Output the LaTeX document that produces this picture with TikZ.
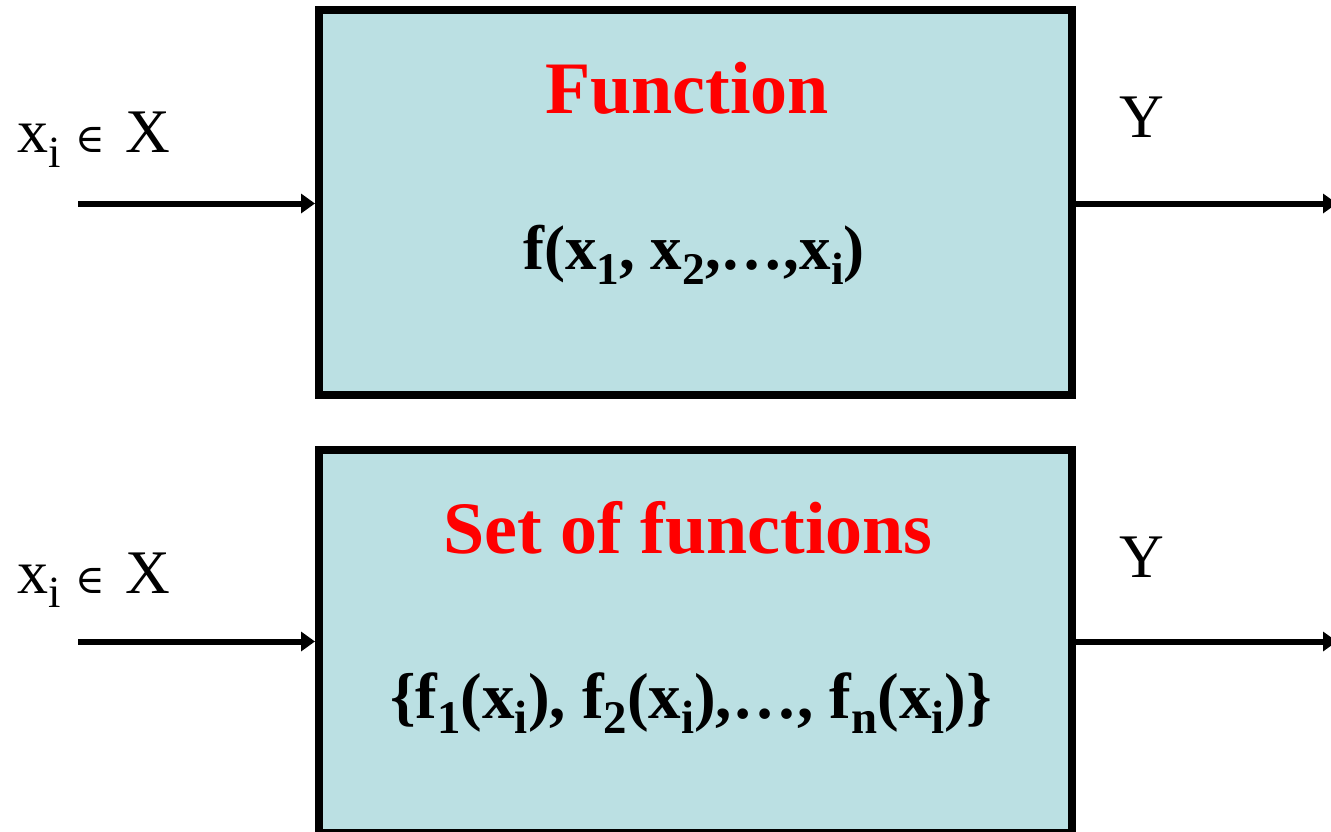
\documentclass[tikz,border=0pt]{standalone}
\usepackage{fontspec}
\usepackage{graphicx}
\setmainfont{Liberation Serif}
\newfontfamily\symf{DejaVu Serif}
\usetikzlibrary{arrows.meta}
\definecolor{boxfill}{RGB}{187,224,227}
\newcommand\sbx[1]{\raisebox{-0.24em}{\scalebox{0.72}{#1}}}
\tikzset{
  blk/.style={draw=black, line width=8pt, fill=boxfill, minimum width=753pt, inner sep=0pt},
  arr/.style={line width=6pt, -{Triangle[length=14pt,width=19pt]}},
  ttl/.style={text=red, font=\fontsize{74}{80}\selectfont\bfseries, anchor=base, inner sep=0pt},
  frm/.style={font=\fontsize{63}{70}\selectfont\bfseries, anchor=base, inner sep=0pt},
  frmb/.style={font=\fontsize{65}{72}\selectfont\bfseries, anchor=base, inner sep=0pt},
  lbl/.style={font=\fontsize{62}{66}\selectfont, anchor=base west, inner sep=0pt},
}
\begin{document}
\begin{tikzpicture}[x=1pt,y=-1pt]
\useasboundingbox (0,0) rectangle (1331,832);
% boxes
\node[blk, minimum height=384.5pt] (box1) at (695.5,202.25) {};
\node[blk, minimum height=383pt] (box2) at (695.5,641) {};
% texts
\node[ttl] (t1) at (687,114) {Function};
\node[frm] (f1) at (694,269) {f(x\sbx{1}, x\sbx{2},…,x\sbx{i})};
\node[ttl] (t2) at (688,553) {Set of functions};
\node[frmb] (f2) at (691,718) {\{f\sbx{1}(x\sbx{i}), f\sbx{2}(x\sbx{i}),…, f\sbx{n}(x\sbx{i})\}};
% input labels
\node[lbl] (l1) at (17,153) {x\sbx{i}\hspace{15pt}{\symf\fontsize{40}{42}\selectfont ∈}\hspace{20pt}X};
\node[lbl] (l2) at (17,593) {x\sbx{i}\hspace{15pt}{\symf\fontsize{40}{42}\selectfont ∈}\hspace{20pt}X};
% output labels
\node[lbl, anchor=base] (y1) at (1142,138) {Y};
\node[lbl, anchor=base] (y2) at (1142,577) {Y};
% connectors
\coordinate (a1) at (78,203.5);
\coordinate (b1) at (1337,203.5);
\coordinate (a2) at (78,641.5);
\coordinate (b2) at (1337,641.5);
\draw[arr] (a1) -- (a1 -| box1.west);
\draw[arr] (box1.east |- b1) -- (b1);
\draw[arr] (a2) -- (a2 -| box2.west);
\draw[arr] (box2.east |- b2) -- (b2);
\end{tikzpicture}
\end{document}
